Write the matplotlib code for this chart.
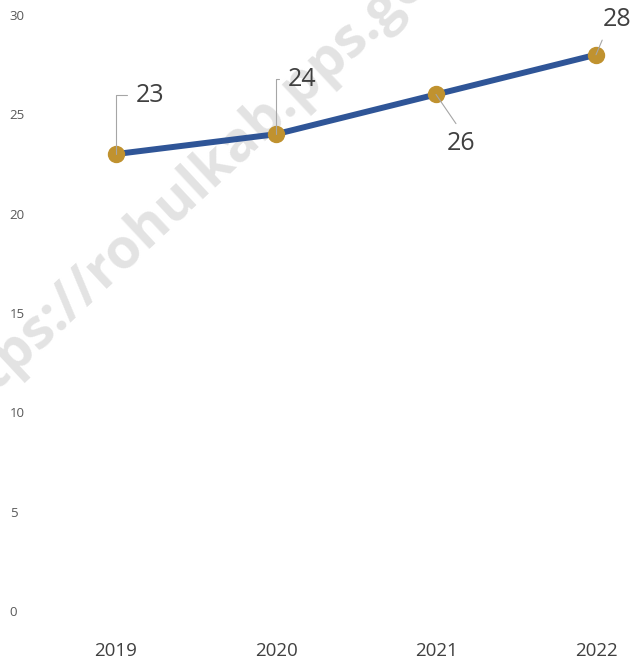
import matplotlib.pyplot as plt

years = ['2019', '2020', '2021', '2022']
values = [23, 24, 26, 28]
yticks = [0, 5, 10, 15, 20, 25, 30]
# label offsets from each point, in pixels
label_dx = [34, 26, 25, 21]
label_dy = [59, 55, -49, 35]

plt.rcParams['font.family'] = ['Open Sans', 'DejaVu Sans']

fig = plt.figure(figsize=(6.33, 6.6), dpi=100)
ax = fig.add_axes([0, 49 / 660, 1, 596 / 660])

x = range(len(years))
ax.plot(x, values, color='#2F5597', linewidth=4.3, zorder=3, solid_capstyle='round')
ax.plot(x, values, 'o', color='#C0922F', markersize=11.5, zorder=4)

ax.set_xlim(-116 / 160, 3 + 37 / 160)
ax.set_ylim(0, 30)
ax.set_xticks(list(x))
ax.set_xticklabels(years, fontsize=13.5, color='#404040')
ax.set_yticks(yticks)
ax.set_yticklabels([str(v) for v in yticks], fontsize=9.5, color='#595959')
ax.tick_params(axis='both', length=0)
ax.tick_params(axis='x', pad=22)
ax.tick_params(axis='y', pad=-7)
for lab in ax.get_yticklabels():
    lab.set_horizontalalignment('left')
for s in ax.spines.values():
    s.set_visible(False)

for i, v in enumerate(values):
    if label_dy[i] > 0 and i < 2:
        cs = 'angle,angleA=0,angleB=90,rad=0'
        rel = (0, 0.5)
    else:
        cs = 'arc3'
        rel = (0.5, 1) if label_dy[i] < 0 else (0.1, 0)
    ax.annotate(str(v), (i, v), xytext=(label_dx[i], label_dy[i]),
                textcoords='offset pixels', ha='center', va='center',
                fontsize=18, color='#404040', zorder=5,
                arrowprops=dict(arrowstyle='-', color='#A6A6A6', lw=0.8,
                                connectionstyle=cs, relpos=rel,
                                shrinkA=4, shrinkB=0))

# watermark, behind the line and labels
ax.text(-0.078, 0.348, 'https://rohulkab.pps.gov', transform=fig.transFigure,
        rotation=43, rotation_mode='anchor', ha='left', va='baseline',
        fontsize=40, fontweight='bold', color='#E3E3E3', zorder=0,
        clip_on=False)

plt.savefig('out.png', dpi=100, facecolor='w')
